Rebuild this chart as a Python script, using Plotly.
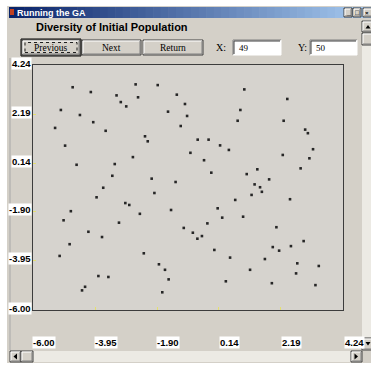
import plotly.graph_objects as go

# ---- data: initial GA population (x, y) ----
pop_x = [-4.69, -4.09, -2.61, -1.88, -3.24, -3.10, -2.92, -2.53, -1.25, -0.98,
         -1.54, -0.91, -5.08, -4.45, -4.01, -5.27, -1.12, -3.60, -0.56, -2.21,
         -2.30, -4.94, -0.80, -2.70, -4.56, -3.30, -3.38, -2.08, -1.29, -3.68,
         0.98, 2.40, 0.85, 0.76, 2.28, 2.99, 3.08, -0.20, 0.18, 0.47,
         3.25, 2.25, -0.35, 3.13, -0.11, 1.41, 2.84, 1.06, 1.80, 1.32,
         1.50, -3.90, -1.99, -2.95, -2.82, -2.47, -1.44, -4.75, -4.99, -3.16,
         -4.17, -3.72, -1.02, -0.72, -0.57, -4.79, -5.12, -2.34, -1.84, -1.64,
         -3.84, -3.51, -1.52, -4.28, -4.38, -1.73, 1.56, 1.22, 0.68, 2.49,
         0.10, 0.25, 0.94, -0.24, -0.42, 2.04, 2.94, -0.01, 1.92, 2.13,
         2.52, 0.51, 1.66, 2.73, 3.44, 1.17, 2.69, 0.37, 1.89, 3.33]
pop_y = [3.31, 3.11, 3.43, 3.40, 2.97, 2.69, 2.51, 2.89, 3.00, 2.61,
         2.29, 2.11, 2.36, 2.15, 1.85, 1.61, 1.69, 1.49, 1.12, 1.05,
         1.26, 0.87, 0.57, 0.39, 0.07, 0.10, -0.39, -0.51, -0.65, -0.89,
         3.22, 2.82, 2.36, 1.91, 1.91, 1.54, 1.39, 1.12, 0.88, 0.69,
         0.72, 0.48, 0.26, 0.34, -0.26, -0.12, -0.08, -0.32, -0.54, -0.75,
         -0.87, -1.29, -1.11, -1.53, -1.61, -1.98, -1.82, -1.87, -2.25, -2.35,
         -2.73, -2.95, -2.57, -2.77, -3.02, -3.25, -3.74, -3.63, -4.09, -4.32,
         -4.58, -4.62, -4.72, -5.03, -5.18, -5.26, -1.06, -1.19, -1.40, -1.37,
         -1.75, -2.14, -2.10, -2.38, -2.91, -2.54, -3.12, -3.49, -3.37, -3.52,
         -3.33, -3.81, -3.87, -4.05, -4.16, -4.32, -4.47, -4.80, -4.88, -4.96]
tick_vals = [-6.00, -3.95, -1.90, 0.14, 2.19, 4.24]
tick_text = ["-6.00", "-3.95", "-1.90", "0.14", "2.19", "4.24"]
axis_min, axis_max = -6.00, 4.24

window_title = "Running the GA"
chart_title = "Diversity of Initial Population"
button_labels = ["Previous", "Next", "Return"]
x_field, y_field = "49", "50"

# ---- geometry (pixels) ----
W, H = 371, 365
PL, PR, PT, PB = 33, 343, 65, 310
GRAY = "#D4D0C8"


def fx(px):
    return (px - PL) / (PR - PL)


def fy(py):
    return (PB - py) / (PB - PT)


shapes = []
annotations = []


def rect(x0, y0, x1, y1, fill=None, line=None, width=1, dash=None, layer="above"):
    d = dict(type="rect", xref="paper", yref="paper",
             x0=fx(x0), x1=fx(x1), y0=fy(y1), y1=fy(y0), layer=layer,
             fillcolor=fill if fill else "rgba(0,0,0,0)",
             line=dict(width=width if line else 0, color=line if line else "rgba(0,0,0,0)"))
    if dash:
        d["line"]["dash"] = dash
    shapes.append(d)


def hline(x0, x1, y, color, width=1, layer="above"):
    shapes.append(dict(type="line", xref="paper", yref="paper", x0=fx(x0), x1=fx(x1),
                       y0=fy(y), y1=fy(y), line=dict(color=color, width=width), layer=layer))


def vline(x, y0, y1, color, width=1, layer="above"):
    shapes.append(dict(type="line", xref="paper", yref="paper", x0=fx(x), x1=fx(x),
                       y0=fy(y0), y1=fy(y1), line=dict(color=color, width=width), layer=layer))


def tri(points, color):
    path = "M " + " L ".join(f"{fx(a)},{fy(b)}" for a, b in points) + " Z"
    shapes.append(dict(type="path", xref="paper", yref="paper", path=path,
                       fillcolor=color, line=dict(width=0)))


def text(px, py, s, size=10, color="black", family="Liberation Sans", xanchor="center", bg=None):
    a = dict(xref="paper", yref="paper", x=fx(px), y=fy(py), text=s, showarrow=False,
             xanchor=xanchor, yanchor="middle", font=dict(size=size, color=color, family=family))
    if bg:
        a["bgcolor"] = bg
        a["borderpad"] = 0
    annotations.append(a)


def raised(x0, y0, x1, y1, outer="#404040"):
    rect(x0, y0, x1, y1, fill=GRAY, line=outer)
    hline(x0 + 1, x1 - 1, y0 + 1, "white")
    vline(x0 + 1, y0 + 1, y1 - 1, "white")
    hline(x0 + 1, x1 - 1, y1 - 1, "#808080")
    vline(x1 - 1, y0 + 1, y1 - 1, "#808080")


def sunken(x0, y0, x1, y1, fill="white"):
    rect(x0, y0, x1, y1, fill=fill)
    hline(x0, x1, y0, "#808080")
    vline(x0, y0, y1, "#808080")
    hline(x0 + 1, x1 - 1, y0 + 1, "#404040")
    vline(x0 + 1, y0 + 1, y1 - 1, "#404040")
    hline(x0, x1, y1, "white")
    vline(x1, y0, y1, "white")


# window body
rect(7, 6, W + 2, 363, fill=GRAY, layer="below")
# title bar gradient
n = 48
c0, c1 = (10, 36, 106), (166, 202, 240)
tx0, tx1 = 9, W + 2
for i in range(n):
    t = i / (n - 1)
    col = "rgb(%d,%d,%d)" % tuple(round(c0[k] + (c1[k] - c0[k]) * t) for k in range(3))
    xa = tx0 + (tx1 - tx0) * i / n
    xb = tx0 + (tx1 - tx0) * (i + 1) / n + 0.6
    rect(xa, 7, xb, 18, fill=col, layer="below")
rect(10, 9, 14, 15, fill="#C04020", layer="above")
text(15, 12.5, "<b>" + window_title + "</b>", size=9, color="white", xanchor="left")
# caption buttons
for bx, sym in [(344, "_"), (353, "□")]:
    raised(bx, 8, bx + 8, 17)
    text(bx + 4, 12.5, "<b>" + sym + "</b>", size=7)
raised(363, 8, W + 3, 17)
text(366.5, 12.5, "<b>×</b>", size=6)

# chart heading
text(112, 27, "<b>" + chart_title + "</b>", size=11, family="Liberation Sans")

# buttons
btn_x = [(22, 80), (82, 141), (143, 203)]
for (bx0, bx1), lab in zip(btn_x, button_labels):
    raised(bx0, 40, bx1, 55)
    text((bx0 + bx1) / 2, 47.5, lab, size=9.5, family="Liberation Serif")
rect(21, 39, 81, 56, line="black", width=1)
rect(25, 42.5, 77, 52.5, line="#202020", width=1, dash="dot")

# X / Y fields
text(221, 47.5, "X:", size=10, family="Liberation Serif")
sunken(233, 40, 281, 55)
text(237, 47.5, x_field, size=9, family="Liberation Serif", xanchor="left")
text(302, 47.5, "Y:", size=10, family="Liberation Serif")
sunken(310, 40, 357, 55)
text(314, 47.5, y_field, size=9, family="Liberation Serif", xanchor="left")

# graph container edge
vline(10, 58, 350, "#A8A8A8")

# plot area background
rect(PL, PT, PR, PB, fill="#D6D3CE", layer="below")

# vertical scrollbar
rect(362, 20, W + 2, 350, fill="#ECEAE4")
raised(362, 21, W + 2, 32)
tri([(365.5, 28.5), (368, 25), (370.5, 28.5)], "black")
raised(362, 33, W + 2, 45)
raised(362, 338, W + 2, 350)
tri([(365.5, 342), (368, 345.5), (370.5, 342)], "black")

# horizontal scrollbar
rect(10, 351, 362, 362, fill="#ECEAE4")
raised(10, 351, 21, 362)
tri([(17, 353.5), (13.5, 356.5), (17, 359.5)], "black")
raised(21, 351, 33, 362)
raised(351, 351, 362, 362)
tri([(354.5, 353.5), (358, 356.5), (354.5, 359.5)], "black")

# tick labels (white boxed)
for v, s in zip(tick_vals, tick_text):
    annotations.append(dict(xref="paper", yref="y", x=fx(31.5), y=v, yshift=2, text="<b>" + s + "</b>",
                            showarrow=False, xanchor="right", yanchor="middle", bgcolor="white",
                            borderpad=0, font=dict(size=9.5, family="Liberation Sans", color="black")))
    annotations.append(dict(xref="x", yref="paper", x=v, xshift=11, y=fy(342), text="<b>" + s + "</b>",
                            showarrow=False, xanchor="center", yanchor="middle", bgcolor="white",
                            borderpad=0, font=dict(size=9.5, family="Liberation Sans", color="black")))

fig = go.Figure()
fig.add_trace(go.Scatter(x=pop_x, y=pop_y, mode="markers",
                         marker=dict(symbol="square", size=2.6, color="#262626", line=dict(width=0)),
                         hoverinfo="x+y", showlegend=False))

fig.update_layout(
    width=W, height=H, autosize=False,
    margin=dict(l=PL, r=W - PR, t=PT, b=H - PB, pad=0),
    paper_bgcolor="white", plot_bgcolor="rgba(0,0,0,0)",
    shapes=shapes, annotations=annotations, showlegend=False,
    xaxis=dict(range=[axis_min, axis_max], showgrid=False, zeroline=False, showticklabels=False,
               tickvals=tick_vals, ticks="inside", ticklen=3, tickcolor="#E4E070",
               showline=True, linecolor="#3C3C3C", linewidth=1, mirror=True, fixedrange=True),
    yaxis=dict(range=[axis_min, axis_max], showgrid=False, zeroline=False, showticklabels=False,
               tickvals=tick_vals, ticks="inside", ticklen=3, tickcolor="#E4E070",
               showline=True, linecolor="#3C3C3C", linewidth=1, mirror=True, fixedrange=True),
)

fig.write_html("out.html", config={"displayModeBar": False},
               post_script="document.body.style.margin='0';document.body.style.overflow='hidden';")
